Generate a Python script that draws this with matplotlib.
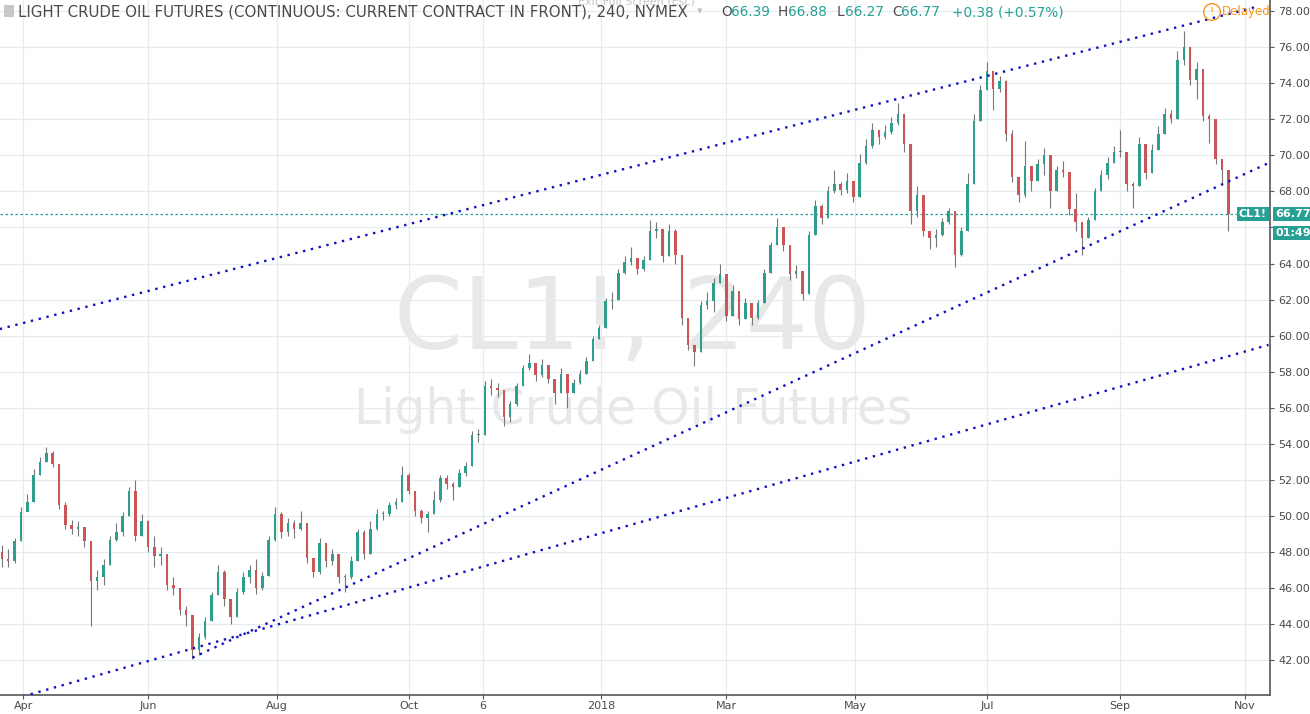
import numpy as np
import pandas as pd
import matplotlib
matplotlib.use("Agg")
import matplotlib.pyplot as plt
import matplotlib.dates as mdates
from matplotlib.transforms import blended_transform_factory
from matplotlib.patches import Rectangle

# CL1! 240 chart, resampled by eye to one candle every 3 days
start_date = "2017-03-24"
step = "3D"
first_open = 48.0
closes = [47.6, 47.5, 48.6, 50.2, 50.8, 52.3, 53.0, 53.5, 52.9, 50.6,
          49.5, 49.3, 49.4, 48.6, 46.4, 46.6, 47.3, 48.7, 49.1, 50.0,
          51.4, 48.9, 49.7, 48.3, 47.8, 47.9, 46.2, 46.0, 44.8, 44.5,
          42.6, 43.3, 44.2, 45.6, 46.9, 45.4, 44.4, 45.8, 46.6, 47.0,
          46.0, 46.7, 48.7, 50.1, 49.1, 49.6, 49.3, 49.6, 47.7, 46.9,
          48.5, 47.5, 47.9, 46.6, 46.6, 47.5, 49.1, 47.9, 49.3, 50.1,
          50.1, 50.6, 50.8, 52.3, 51.4, 50.3, 49.9, 50.1, 50.9, 52.1,
          51.8, 51.6, 52.4, 52.8, 54.5, 54.5, 57.2, 57.1, 57.0, 55.5,
          56.2, 57.2, 58.2, 58.5, 57.8, 58.4, 57.6, 56.8, 57.9, 56.8,
          57.4, 57.9, 58.6, 59.8, 60.4, 61.9, 62.0, 63.5, 64.1, 64.3,
          63.7, 64.2, 65.8, 65.9, 64.4, 65.8, 64.5, 61.0, 59.5, 59.1,
          61.7, 61.9, 62.9, 63.4, 61.1, 62.5, 60.9, 61.8, 61.0, 61.8,
          63.5, 65.0, 66.0, 65.0, 63.4, 63.6, 62.3, 65.6, 67.2, 66.5,
          68.0, 68.4, 68.1, 68.6, 67.7, 69.6, 70.5, 71.4, 71.0, 71.3,
          71.8, 72.3, 70.6, 66.9, 67.8, 65.8, 65.4, 65.6, 66.3, 66.9,
          64.5, 65.8, 68.4, 71.9, 73.6, 74.7, 73.7, 74.1, 71.2, 68.8,
          67.8, 69.4, 68.6, 69.5, 70.0, 68.0, 69.2, 69.1, 67.0, 66.3,
          65.4, 66.4, 68.0, 68.9, 69.6, 70.2, 70.2, 68.4, 68.3, 70.6,
          69.0, 70.3, 71.2, 72.3, 72.0, 75.3, 76.0, 74.2, 74.8, 72.2,
          72.0, 69.8, 69.2, 66.77]
highs = [48.4, 48.2, 48.8, 50.5, 51.2, 52.6, 53.3, 53.85, 53.6, 52.9,
         50.8, 49.8, 49.7, 49.4, 48.6, 47.0, 47.6, 48.9, 49.6, 50.2,
         51.6, 52.0, 50.1, 49.8, 48.9, 48.3, 47.9, 46.6, 46.0, 45.0,
         44.5, 43.5, 44.4, 45.8, 47.3, 47.0, 45.4, 46.0, 46.9, 47.3,
         47.6, 46.9, 48.9, 50.5, 50.2, 49.9, 49.8, 50.3, 49.5, 47.7,
         48.8, 48.5, 48.2, 47.9, 46.8, 47.8, 49.3, 49.2, 49.7, 50.4,
         50.3, 50.8, 51.0, 52.8, 52.4, 51.4, 50.4, 50.3, 51.4, 52.3,
         52.3, 51.9, 52.6, 53.0, 54.7, 54.8, 57.5, 57.6, 57.4, 57.0,
         56.4, 57.4, 58.4, 59.0, 58.5, 58.7, 58.4, 57.6, 58.2, 57.9,
         57.6, 58.1, 58.8, 60.0, 60.6, 62.1, 62.4, 63.7, 64.4, 64.9,
         64.3, 64.4, 66.4, 66.3, 65.9, 66.2, 65.9, 64.5, 61.0, 59.5,
         61.9, 62.4, 63.2, 64.0, 63.4, 62.8, 62.5, 62.1, 61.8, 62.0,
         63.7, 65.2, 66.5, 66.0, 65.0, 63.9, 63.6, 65.8, 67.5, 67.3,
         68.3, 69.2, 68.5, 69.0, 68.6, 70.1, 70.9, 71.8, 71.4, 71.7,
         72.1, 72.9, 72.3, 70.6, 68.3, 67.8, 65.7, 65.9, 66.5, 67.1,
         66.9, 66.0, 69.0, 72.3, 73.9, 75.2, 74.7, 74.4, 74.2, 71.4,
         68.8, 70.8, 69.4, 69.8, 70.4, 70.0, 69.4, 69.7, 69.1, 67.9,
         65.6, 66.6, 68.2, 69.2, 69.9, 70.5, 71.4, 70.2, 68.5, 71.0,
         70.6, 70.6, 71.6, 72.6, 72.5, 75.8, 76.9, 76.0, 75.2, 74.8,
         72.3, 72.0, 69.7, 69.2]
lows = [47.2, 47.2, 47.4, 48.6, 50.3, 50.8, 52.3, 53.0, 52.7, 50.4,
        49.3, 49.0, 48.9, 48.3, 43.9, 45.9, 46.2, 47.3, 48.6, 48.9,
        50.0, 48.6, 48.9, 48.0, 47.2, 47.3, 45.9, 45.6, 44.5, 43.9,
        42.05, 42.3, 43.2, 44.2, 45.6, 45.0, 44.0, 44.4, 45.7, 46.3,
        45.7, 45.9, 46.7, 48.6, 48.8, 48.9, 48.8, 49.2, 47.4, 46.6,
        46.8, 47.2, 47.3, 46.3, 45.8, 46.5, 47.5, 47.6, 47.9, 49.2,
        49.8, 50.0, 50.4, 50.8, 51.2, 50.0, 49.6, 49.1, 50.1, 50.8,
        51.5, 50.9, 51.6, 52.2, 52.8, 54.1, 54.5, 56.7, 56.6, 55.0,
        55.2, 56.1, 57.2, 58.1, 57.5, 57.7, 57.4, 56.2, 56.8, 56.0,
        56.8, 57.3, 57.9, 58.6, 59.8, 60.4, 61.5, 62.0, 63.4, 63.9,
        63.4, 63.6, 64.2, 65.4, 64.1, 64.4, 64.0, 60.6, 59.2, 58.3,
        59.1, 61.5, 61.3, 62.9, 60.8, 61.1, 60.6, 60.9, 60.6, 60.9,
        61.8, 63.5, 65.0, 64.7, 63.1, 63.2, 62.0, 62.3, 65.6, 66.2,
        66.5, 67.9, 67.8, 67.9, 67.4, 67.7, 69.5, 70.4, 70.6, 70.9,
        71.2, 71.7, 70.2, 66.2, 66.6, 65.5, 64.8, 64.9, 65.5, 66.2,
        63.8, 64.4, 65.8, 68.4, 71.9, 73.6, 72.5, 73.5, 70.8, 68.5,
        67.4, 67.7, 68.0, 68.6, 68.9, 67.1, 68.0, 68.8, 66.7, 65.8,
        64.45, 65.4, 66.4, 68.0, 68.7, 69.6, 69.9, 68.0, 67.1, 68.3,
        68.7, 69.0, 70.3, 71.2, 71.8, 72.0, 75.0, 73.9, 73.1, 71.9,
        70.7, 69.5, 68.4, 65.8]
last_price = 66.77

tick_dates = ["2017-04-03", "2017-06-01", "2017-08-01", "2017-10-02", "2017-11-06",
              "2018-01-01", "2018-03-01", "2018-05-01", "2018-07-02", "2018-09-03",
              "2018-11-01"]
tick_labels = ["Apr", "Jun", "Aug", "Oct", "6", "2018", "Mar", "May", "Jul", "Sep", "Nov"]
price_ticks = np.arange(42, 79, 2)

# drawn trend lines: (dates, prices)
upper_line = (["2017-03-23", "2018-11-06"], [60.37, 78.22])
middle_line = (["2017-06-22", "2018-11-12"], [42.15, 69.57])
lower_line = (["2017-03-23", "2018-11-12"], [39.64, 59.49])

up_color = "#2f9e8c"
down_color = "#cc5558"
wick_color = "#777777"
line_blue = "#1010c0"
teal = "#26a094"

dates = pd.date_range(start_date, periods=len(closes), freq=step)
xs = mdates.date2num(dates)
opens = np.array([first_open] + closes[:-1])
c = np.array(closes)

fig = plt.figure(figsize=(13.1, 7.14), dpi=100)
ax = fig.add_axes([0, 19 / 714, 1270 / 1310, 695 / 714])

# watermark
ax.text(0.4976, 0.537, "CL1!, 240", transform=ax.transAxes, fontsize=71,
        color="#e8e8e8", ha="center", va="center", zorder=0)
ax.text(0.4985, 0.41, "Light Crude Oil Futures", transform=ax.transAxes, fontsize=35,
        color="#e8e8e8", ha="center", va="center", zorder=0)

# candles
ax.vlines(xs, lows, highs, color=wick_color, linewidth=0.8, zorder=3)
up = c >= opens
body_lo = np.minimum(opens, c)
body_h = np.maximum(np.abs(c - opens), 0.05)
ax.bar(xs[up], body_h[up], bottom=body_lo[up], width=1.2, color=up_color, zorder=4)
ax.bar(xs[~up], body_h[~up], bottom=body_lo[~up], width=1.2, color=down_color, zorder=4)

# trend lines
for ln in (upper_line, middle_line, lower_line):
    ax.plot(mdates.date2num(pd.to_datetime(ln[0])), ln[1], color=line_blue,
            linewidth=1.7, linestyle=(0, (1, 2.4)), zorder=5)

ax.axhline(last_price, color=teal, linewidth=0.9, linestyle=(0, (2, 2)), zorder=2)

x0 = mdates.date2num(pd.Timestamp("2017-04-01"))
ax.set_xlim(x0 - 8.88, x0 + 590.7)
ax.set_ylim(40.08, 78.61)

ax.set_xticks(mdates.date2num(pd.to_datetime(tick_dates)))
ax.set_xticklabels(tick_labels)
ax.set_yticks(price_ticks)
# the price tag covers the label next to the last price
ax.set_yticklabels(["" if abs(p - last_price) < 1.2 else "%.2f" % p for p in price_ticks])
ax.yaxis.tick_right()
ax.tick_params(axis="both", colors="#555555", labelcolor="#4a4a4a", labelsize=8,
               length=3, width=0.8)
ax.tick_params(axis="y", pad=3)
ax.tick_params(axis="x", pad=1.5)
ax.grid(True, color="#e6ebef", linewidth=0.9, zorder=0)
ax.set_axisbelow(True)
for s in ("left", "top"):
    ax.spines[s].set_visible(False)
for s in ("right", "bottom"):
    ax.spines[s].set_color("#555555")
    ax.spines[s].set_linewidth(1.2)

# price tags
tr = blended_transform_factory(ax.transAxes, ax.transData)
tag = dict(boxstyle="square,pad=0.18", fc=teal, ec="none")
ax.text(1.0 + 5 / 1270, last_price, "66.77", transform=tr, color="white", fontsize=8,
        fontweight="bold", ha="left", va="center", bbox=tag, clip_on=False, zorder=10)
ax.text(0.9975, last_price, "CL1!", transform=tr, color="white", fontsize=8,
        fontweight="bold", ha="right", va="center", bbox=tag, clip_on=False, zorder=10)
ax.text(1.0 + 5 / 1270, last_price - 1.05, "01:49:5", transform=tr, color="white",
        fontsize=8, fontweight="bold", ha="left", va="center", bbox=tag,
        clip_on=False, zorder=10)

# header
def fx(px):
    return px / 1310


def fy(py):
    return 1 - py / 714


fig.patches.append(Rectangle((fx(4), fy(17)), 10 / 1310, 12 / 714, transform=fig.transFigure,
                             fc="#c8c8c8", ec="none"))
fig.text(fx(18), fy(12), "LIGHT CRUDE OIL FUTURES (CONTINUOUS: CURRENT CONTRACT IN FRONT), 240, NYMEX",
         fontsize=10.8, color="#4a4a4a", va="center", ha="left")
fig.text(fx(697), fy(11), "\u25be", fontsize=8, color="#c0c0c0", va="center")
fig.text(fx(578), fy(1), "Exit Full Screen (Esc)", fontsize=8, color="#c4c4c4", va="center")

ohlc = [("O", "66.39", 721, 731), ("H", "66.88", 778, 788),
        ("L", "66.27", 837, 845), ("C", "66.77", 892, 901)]
for key, val, px, pv in ohlc:
    fig.text(fx(px), fy(12), key, fontsize=9.8, color="#4a4a4a", va="center")
    fig.text(fx(pv), fy(12), val, fontsize=9.8, color=teal, va="center")
fig.text(fx(952), fy(12), "+0.38 (+0.57%)", fontsize=9.8, color=teal, va="center")

orange = "#f7941d"
fig.text(fx(1212), fy(12), "!", fontsize=8, color=orange, ha="center", va="center",
         bbox=dict(boxstyle="circle,pad=0.3", fc="none", ec=orange, lw=1.0))
fig.text(fx(1222), fy(12), "Delayed", fontsize=8.5, color=orange, va="center")

fig.savefig("out.png", dpi=100)
